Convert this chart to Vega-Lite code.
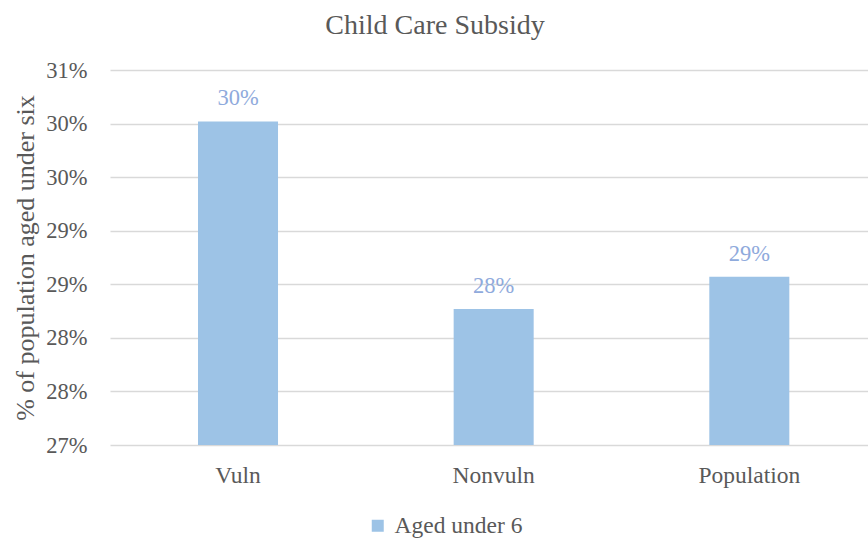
{
  "$schema": "https://vega.github.io/schema/vega-lite/v6.json",
  "width": 758,
  "height": 375,
  "autosize": "none",
  "padding": {"left": 110, "top": 70, "right": 0, "bottom": 94},
  "background": "white",
  "config": {
    "font": "Liberation Serif",
    "view": {"stroke": null},
    "style": {
      "guide-label": {"font": "Liberation Serif"},
      "guide-title": {"font": "Liberation Serif"},
      "group-title": {"font": "Liberation Serif"}
    }
  },
  "title": {
    "text": "Child Care Subsidy",
    "font": "Liberation Serif",
    "fontSize": 28,
    "fontWeight": "normal",
    "color": "#595959",
    "anchor": "middle",
    "frame": "group",
    "dx": -54,
    "offset": 19
  },
  "data": {
    "values": [
      {"group": "Vuln", "series": "Aged under 6", "share": 0.3002},
      {"group": "Nonvuln", "series": "Aged under 6", "share": 0.2827},
      {"group": "Population", "series": "Aged under 6", "share": 0.2857}
    ]
  },
  "encoding": {
    "x": {
      "field": "group",
      "type": "nominal",
      "sort": null,
      "scale": {"paddingInner": 0.687, "paddingOuter": 0.326, "align": 0.528},
      "axis": {
        "title": null,
        "labelAngle": 0,
        "labelFont": "Liberation Serif",
        "labelFontSize": 23.5,
        "labelColor": "#595959",
        "labelPadding": 18,
        "ticks": false,
        "tickSize": 0,
        "domain": false,
        "grid": false
      }
    },
    "y": {
      "field": "share",
      "type": "quantitative",
      "scale": {"domain": [0.27, 0.305], "nice": false, "zero": false},
      "axis": {
        "title": "% of population aged under six",
        "titleFont": "Liberation Serif",
        "titleFontSize": 26,
        "titleFontWeight": "normal",
        "titleColor": "#595959",
        "titlePadding": 7,
        "values": [0.27, 0.275, 0.28, 0.285, 0.29, 0.295, 0.3, 0.305],
        "labelExpr": "format(datum.value + 0.000001, '.0%')",
        "labelFont": "Liberation Serif",
        "labelFontSize": 22.5,
        "labelColor": "#595959",
        "labelPadding": 23,
        "ticks": false,
        "tickSize": 0,
        "domain": false,
        "grid": true,
        "gridColor": "#d9d9d9",
        "gridWidth": 1.3
      }
    }
  },
  "layer": [
    {
      "mark": {"type": "bar"},
      "encoding": {
        "y2": {"datum": 0.27},
        "color": {
          "field": "series",
          "type": "nominal",
          "scale": {"range": ["#9dc3e6"]},
          "legend": {
            "title": null,
            "orient": "none",
            "legendX": 256,
            "legendY": 444,
            "padding": 0,
            "symbolType": "square",
            "symbolSize": 144,
            "symbolStrokeWidth": 0,
            "labelFont": "Liberation Serif",
            "labelFontSize": 23.5,
            "labelColor": "#595959",
            "labelOffset": 5
          }
        }
      }
    },
    {
      "mark": {"type": "text", "baseline": "alphabetic", "dy": -16, "fontSize": 22.5, "color": "#8faadc", "font": "Liberation Serif"},
      "encoding": {
        "text": {"field": "share", "format": ".0%"}
      }
    }
  ]
}
